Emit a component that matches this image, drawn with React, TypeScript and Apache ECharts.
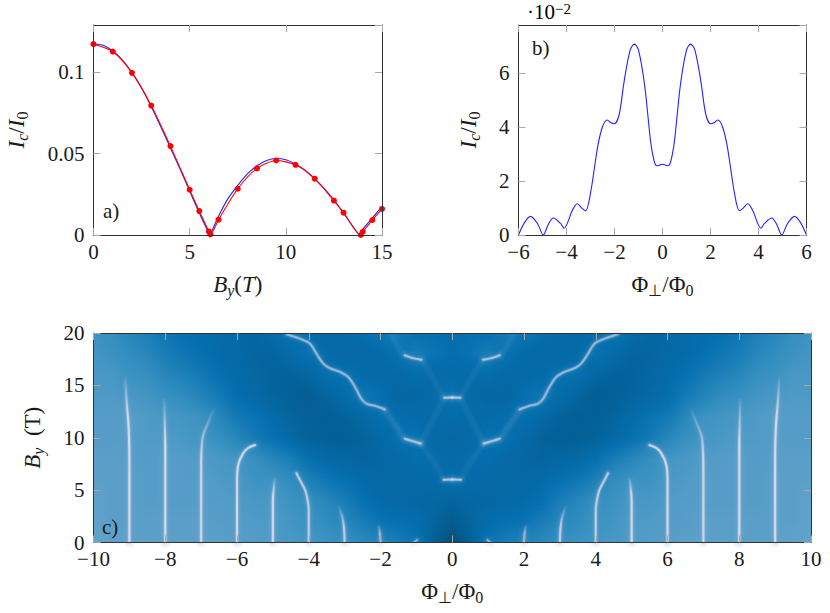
import React, { useEffect, useRef } from "react";
import * as echarts from "echarts";

const FONT = "'Liberation Serif', serif";
const W = 830, H = 613;

// panel a
const aBlueX = [0,0.5,1,1.5,2,2.5,3,3.5,4,4.5,5,5.5,5.9,6.05,6.1,6.5,7,7.5,8,8.5,9,9.5,10,10.5,11,11.5,12,12.5,13,13.5,13.85,14,14.5,15];
const aBlueY = [0.1175,0.1165,0.113,0.1075,0.0998,0.0905,0.079,0.0665,0.0535,0.0405,0.027,0.0135,0.0035,0,0.001,0.0115,0.0225,0.0305,0.0375,0.0425,0.0458,0.047,0.0462,0.0437,0.0398,0.0345,0.0285,0.0215,0.0135,0.005,0,0.0035,0.0105,0.0175];
const aRedX = [0,1,2,3,4,5,5.5,6,6.08,6.5,7.5,8.5,9.5,10.5,11.5,12.5,13,13.9,14,14.5,15];
const aRedY = [0.1172,0.1127,0.0996,0.0795,0.0546,0.0278,0.0147,0.0022,0.0004,0.0094,0.0284,0.0409,0.0458,0.0431,0.0346,0.0211,0.0137,0,0.002,0.0092,0.016];

// panel b (symmetric curve, read on the positive side)
const bX = [0,0.1,0.2,0.3,0.4,0.5,0.75,1,1.17,1.35,1.6,1.8,2,2.15,2.3,2.5,2.7,3,3.2,3.35,3.55,3.75,4.1,4.25,4.55,4.75,4.97,5.2,5.5,5.75,6];
const bY = [2.63,2.61,2.57,2.62,2.95,3.5,5.6,6.87,7.09,6.87,5.7,4.5,4.13,4.17,4.27,4.02,3.28,1.55,0.9,0.99,1.16,0.93,0.25,0.43,0.63,0.41,0,0.41,0.69,0.46,0];

// panel c: background levels on PuBu scale, rows y = 0,2..20, columns |x| = 0,0.5..10
const cYs = [0,2,4,6,8,10,12,14,16,18,20];
const cAbsXs = [0,0.5,1,1.5,2,2.5,3,3.5,4,4.5,5,5.5,6,6.5,7,7.5,8,8.5,9,9.5,10];
const cLevels = [
  [7.4,6.7,5.9,5.6,5.4,5.2,5.0,4.9,4.8,4.7,4.6,4.5,4.5,4.4,4.4,4.4,4.4,4.4,4.4,4.3,4.3],
  [6.9,6.5,6.1,6.0,5.9,5.6,5.3,5.1,4.9,4.8,4.6,4.6,4.5,4.5,4.4,4.4,4.4,4.4,4.4,4.4,4.3],
  [6.5,6.4,6.4,6.3,6.2,6.0,5.6,5.3,5.0,4.9,4.7,4.7,4.6,4.5,4.5,4.5,4.5,4.5,4.4,4.4,4.3],
  [6.0,6.2,6.3,6.3,6.3,6.2,6.0,5.8,5.5,5.1,4.9,4.9,4.7,4.6,4.5,4.5,4.5,4.5,4.4,4.4,4.4],
  [6.3,6.1,6.1,6.3,6.4,6.5,6.4,6.3,6.0,5.6,5.3,5.0,4.8,4.7,4.6,4.5,4.5,4.5,4.5,4.4,4.4],
  [6.4,6.3,5.9,6.0,6.3,6.6,6.7,6.7,6.6,6.3,6.0,5.7,5.3,5.0,4.8,4.7,4.6,4.6,4.5,4.5,4.5],
  [6.1,6.2,6.2,6.1,6.0,6.3,6.6,6.7,6.7,6.5,6.2,5.9,5.7,5.3,4.9,4.8,4.7,4.6,4.5,4.5,4.5],
  [5.9,6.2,6.4,6.4,6.0,5.8,6.2,6.5,6.8,6.7,6.5,6.3,6.1,5.7,5.4,5.1,5.0,4.8,4.7,4.6,4.6],
  [6.2,6.2,6.1,6.3,6.3,6.2,6.0,6.0,6.4,6.6,6.6,6.4,6.2,6.0,5.7,5.5,5.3,5.0,4.9,4.7,4.7],
  [6.1,5.9,5.6,6.0,6.2,6.3,6.3,6.2,5.9,6.2,6.5,6.5,6.3,6.2,6.0,5.8,5.6,5.3,5.1,4.9,4.8],
  [6.1,6.0,6.0,5.7,5.8,6.1,6.2,6.3,6.2,5.9,6.2,6.4,6.3,6.2,6.1,6.0,5.8,5.5,5.3,5.0,4.9],
];
const puBu = ["#fff7fb","#ece7f2","#d0d1e6","#a6bddb","#74a9cf","#3690c0","#0570b0","#045a8d","#023858"];

// panel c: bright ridges, [|x|, y], with strength and where they begin to fade
type Ridge = { pts: number[][]; alpha: number; fade?: number; soft?: boolean };
const ridge9: Ridge = { pts: [[9,0],[9,8],[9.02,11],[9.08,13.6],[9.12,16]], alpha: 1, fade: 12 };
const ridge8: Ridge = { pts: [[8,0],[8,9],[8.01,11],[8.03,14]], alpha: 1, fade: 9.5 };
const ridge7: Ridge = { pts: [[7,0],[7,7],[6.96,10],[6.8,11.5],[6.62,13]], alpha: 0.9, fade: 8 };
const ridge6: Ridge = { pts: [[6,0],[6,6],[5.96,7.5],[5.83,8.5],[5.7,9],[5.5,9.3]], alpha: 0.95 };
const ridge5: Ridge = { pts: [[5,0],[5,4],[4.98,5],[4.94,6.3]], alpha: 0.95, fade: 4.5 };
const ridge4: Ridge = { pts: [[4,0],[4,3],[4.03,4],[4.1,5],[4.25,6],[4.34,6.6]], alpha: 0.8 };
const ridge3: Ridge = { pts: [[3,0],[3.02,1.5],[3.07,2.5],[3.18,3.6]], alpha: 0.8, fade: 1.5 };
const ridge2: Ridge = { pts: [[2,0],[2.02,1],[2.06,1.8]], alpha: 0.6, fade: 0.8 };
const ridge1: Ridge = { pts: [[1.06,0],[0.98,0.25]], alpha: 0.5 };
const diagTop: Ridge = { pts: [[4.62,19.9],[4.25,19.46],[3.97,19],[3.78,18],[3.6,17.1],[3.42,16.66],[3.14,16.3],[2.9,15.8],[2.71,14.85],[2.53,13.7],[2.39,13.26],[2.11,13],[1.88,12.7]], alpha: 0.6 };
const diagMid: Ridge = { pts: [[1.88,12.7],[1.55,11],[1.32,9.9],[1.13,9.7],[0.88,9.45]], alpha: 0.55, soft: true };
const capMid: Ridge = { pts: [[1.32,9.9],[1.13,9.7],[0.88,9.45]], alpha: 0.7 };
const capTop: Ridge = { pts: [[1.32,17.87],[1.09,17.6],[0.86,17.45]], alpha: 0.7 };
const capTopLink: Ridge = { pts: [[1.7,20],[1.5,18.6],[1.32,17.87]], alpha: 0.4, soft: true };
const center14: Ridge = { pts: [[0.22,13.83],[0,13.85]], alpha: 0.75 };
const center6: Ridge = { pts: [[0.24,6],[0,6.02]], alpha: 0.75 };
const link1: Ridge = { pts: [[0.88,9.45],[0.5,7.6],[0.24,6]], alpha: 0.3, soft: true };
const link2: Ridge = { pts: [[0.88,9.45],[0.5,12],[0.22,13.83]], alpha: 0.3, soft: true };
const link3: Ridge = { pts: [[0.86,17.45],[0.5,15.5],[0.22,13.83]], alpha: 0.3, soft: true };
const ridges = [ridge9,ridge8,ridge7,ridge6,ridge5,ridge4,ridge3,ridge2,ridge1,diagTop,diagMid,capMid,capTop,capTopLink,center14,center6,link1,link2,link3];

const gA = { left: 93.5, top: 25, width: 288.5, height: 210 };
const gB = { left: 518.5, top: 25, width: 288, height: 210 };
const gC = { left: 93.5, top: 333, width: 717.5, height: 209.5 };

const hex = (s: string) => [1, 3, 5].map((i) => parseInt(s.slice(i, i + 2), 16));
const levelColor = (l: number) => {
  const i = Math.min(puBu.length - 2, Math.floor(l));
  const a = hex(puBu[i]), b = hex(puBu[i + 1]);
  const t = l - i;
  return `rgb(${a.map((v, k) => Math.round(v + (b[k] - v) * t)).join(",")})`;
};

const cXs = [...cAbsXs.slice(1).reverse().map((v) => -v), ...cAbsXs];
const levelAt = (xi: number, yi: number) => cLevels[yi][Math.abs(xi - (cAbsXs.length - 1))];

const cCells: number[][] = [];
cYs.slice(0, -1).forEach((_, yi) => cXs.slice(0, -1).forEach((_, xi) => cCells.push([xi, yi, levelAt(xi, yi)])));

// each cell is shaded between its four corner values, in thin horizontal strips
const renderCell = (_: any, api: any) => {
  const xi = api.value(0), yi = api.value(1);
  const p0 = api.coord([cXs[xi], cYs[yi]]), p1 = api.coord([cXs[xi + 1], cYs[yi + 1]]);
  const l = Math.round(p0[0]), r = Math.round(p1[0]), t = Math.round(p1[1]), b = Math.round(p0[1]);
  const a = levelAt(xi, yi), c = levelAt(xi + 1, yi), d = levelAt(xi, yi + 1), e = levelAt(xi + 1, yi + 1);
  const children: any[] = [];
  for (let py = t; py < b; py += 2) {
    const s = 1 - (py + 1 - t) / (b - t);
    const h = Math.min(2, b - py);
    children.push({
      type: "rect",
      shape: { x: l, y: py, width: r - l, height: h },
      style: { fill: new echarts.graphic.LinearGradient(0, 0, 1, 0, [
        { offset: 0, color: levelColor(a + (d - a) * s) },
        { offset: 1, color: levelColor(c + (e - c) * s) },
      ]) },
    });
  }
  return { type: "group", children };
};

const ridgeLayers = [
  { width: 12, rgb: "116,169,207", a: 0.07, soft: true },
  { width: 8, rgb: "140,180,215", a: 0.1, soft: true },
  { width: 5, rgb: "166,189,219", a: 0.16, soft: true },
  { width: 3.4, rgb: "208,209,230", a: 0.3, soft: false },
  { width: 2, rgb: "226,224,240", a: 0.85, soft: false },
];
const ridgeStroke = (r: Ridge, rgb: string, a: number) => {
  const alpha = a * r.alpha;
  if (r.fade === undefined) return `rgba(${rgb},${alpha})`;
  const top = Math.max(...r.pts.map((p) => p[1]));
  const py = (y: number) => gC.top + gC.height * (1 - y / 20);
  return new echarts.graphic.LinearGradient(0, py(0), 0, py(top), [
    { offset: 0, color: `rgba(${rgb},${alpha})` },
    { offset: r.fade / top, color: `rgba(${rgb},${alpha})` },
    { offset: 1, color: `rgba(${rgb},0)` },
  ], true);
};
const ridgeSeries: any[] = [];
ridgeLayers.forEach((layer) => {
  ridges.forEach((r) => {
    if (r.soft && !layer.soft) return;
    [-1, 1].forEach((sign) => {
      ridgeSeries.push({
        type: "line", xAxisIndex: 4, yAxisIndex: 4, silent: true, showSymbol: false, smooth: 0.3,
        data: r.pts.map((p) => [sign * p[0], p[1]]),
        lineStyle: { width: layer.width, color: ridgeStroke(r, layer.rgb, layer.a), cap: "round" },
        z: 3,
      });
    });
  });
});

const INK = "#1a1a1a";
const mathRich = {
  it: { fontFamily: FONT, fontStyle: "italic", fontSize: 23, lineHeight: 28, color: INK },
  n: { fontFamily: FONT, fontSize: 23, lineHeight: 28, color: INK },
  sub: { fontFamily: FONT, fontSize: 16, lineHeight: 28, verticalAlign: "bottom", color: INK },
  subIt: { fontFamily: FONT, fontStyle: "italic", fontSize: 16, lineHeight: 28, verticalAlign: "bottom", color: INK },
};
const supRich = {
  n: { fontFamily: FONT, fontSize: 21, lineHeight: 22, color: INK },
  sup: { fontFamily: FONT, fontSize: 15, lineHeight: 22, verticalAlign: "top", color: INK },
};
const nameIc = "{it|I}{subIt|c}{n|/}{it|I}{sub|0}";
const nameBy = "{it|B}{subIt|y}{n|(}{it|T}{n|)}";
const nameByT = "{it|B}{subIt|y}{n|  (T)}";
const namePhi = "{n|Φ}{sub|⊥}{n|/Φ}{sub|0}";

const minus = (v: number) => (v < 0 ? "−" + Math.abs(v) : String(v));
const tick = { show: true, inside: true, length: 7, lineStyle: { color: "#a8a8a8", width: 1 } };
const line = { show: true, onZero: false, lineStyle: { color: "#333", width: 1 } };
const label = { fontFamily: FONT, fontSize: 21, lineHeight: 16, color: INK, margin: 9, formatter: minus, showMaxLabel: true };
const nameStyle = { rich: mathRich, fontFamily: FONT, fontSize: 23 };

const valueAxes = (grid: number, xmin: number, xmax: number, xint: number, xname: string, xgap: number) => [
  { type: "value", gridIndex: grid, min: xmin, max: xmax, interval: xint, position: "bottom", z: 10, splitLine: { show: false },
    axisLine: line, axisTick: tick, axisLabel: { ...label, margin: 8.5 }, name: xname, nameLocation: "middle", nameGap: xgap, nameTextStyle: nameStyle },
  { type: "value", gridIndex: grid, min: xmin, max: xmax, interval: xint, position: "top", z: 10, splitLine: { show: false },
    axisLine: line, axisTick: tick, axisLabel: { show: false } },
];
const yAxes = (grid: number, ymax: number, yint: number, yname: string, ygap: number) => [
  { type: "value", gridIndex: grid, min: 0, max: ymax, interval: yint, position: "left", z: 10, splitLine: { show: false },
    axisLine: line, axisTick: tick, axisLabel: { ...label, showMaxLabel: ymax === 20 }, name: yname, nameLocation: "middle", nameGap: ygap, nameRotate: 90, nameTextStyle: nameStyle },
  { type: "value", gridIndex: grid, min: 0, max: ymax, interval: yint, position: "right", z: 10, splitLine: { show: false },
    axisLine: line, axisTick: tick, axisLabel: { show: false } },
];

const labelText = (text: string, x: number, y: number) => ({
  type: "text", x, y, silent: true, z: 20,
  style: { text, fontFamily: FONT, fontSize: 21, fill: INK, verticalAlign: "middle" },
});

const bFull = [...bX.slice(1).reverse().map((x, i) => [-x, bY[bX.length - 1 - i]]), ...bX.map((x, i) => [x, bY[i]])];

export default function App() {
  const ref = useRef<HTMLDivElement>(null);
  useEffect(() => {
    const chart = echarts.init(ref.current!, undefined, { renderer: "svg" });
    chart.setOption({
      animation: false,
      backgroundColor: "#fff",
      grid: [gA, gB, gC],
      xAxis: [
        ...valueAxes(0, 0, 15, 5, nameBy, 35),
        ...valueAxes(1, -6, 6, 2, namePhi, 35),
        ...valueAxes(2, -10, 10, 2, namePhi, 35),
      ],
      yAxis: [
        ...yAxes(0, 0.129, 0.05, nameIc, 63),
        ...yAxes(1, 7.8, 2, nameIc, 36),
        ...yAxes(2, 20, 5, nameByT, 47),
      ],
      graphic: [
        labelText("a)", 103, 211),
        labelText("b)", 532, 48),
        labelText("c)", 102, 527),
        { type: "text", x: 527, y: 12, silent: true, z: 20,
          style: { text: "{n|·10}{sup|−2}", rich: supRich, fontFamily: FONT, verticalAlign: "middle" } },
      ],
      series: [
        { type: "line", xAxisIndex: 0, yAxisIndex: 0, showSymbol: false, smooth: 0.25, clip: false,
          data: aBlueX.map((x, i) => [x, aBlueY[i]]), lineStyle: { color: "#2222ff", width: 1.1 } },
        { type: "line", xAxisIndex: 0, yAxisIndex: 0, symbol: "circle", symbolSize: 6, showAllSymbol: true, smooth: 0.25, clip: false,
          data: aRedX.map((x, i) => [x, aRedY[i]]), lineStyle: { color: "#f00", width: 1.1 }, itemStyle: { color: "#f00" } },
        { type: "line", xAxisIndex: 2, yAxisIndex: 2, showSymbol: false, smooth: 0.3, clip: false,
          data: bFull, lineStyle: { color: "#2222ff", width: 1.1 } },
        { type: "custom", xAxisIndex: 4, yAxisIndex: 4, silent: true, z: 1, renderItem: renderCell, data: cCells, encode: { x: 0, y: 1 }, clip: false },
        ...ridgeSeries,
      ],
    });
    return () => chart.dispose();
  }, []);
  return <div ref={ref} style={{ position: "absolute", left: 0, top: 0, width: W, height: H }} />;
}
